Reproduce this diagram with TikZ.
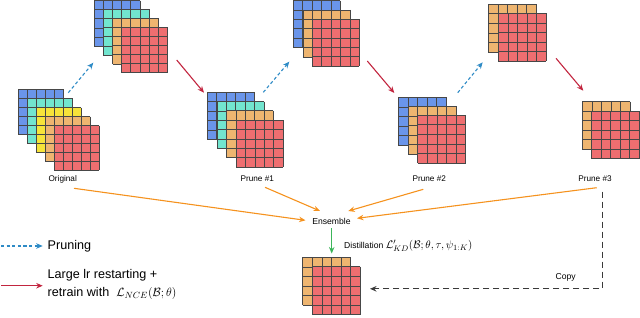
\documentclass[tikz,border=0pt]{standalone}
\usepackage{fontspec}
\setmainfont{Liberation Sans}
\usetikzlibrary{arrows.meta}
\definecolor{gblue}{HTML}{6A95EA}
\definecolor{gteal}{HTML}{72E5CF}
\definecolor{gyellow}{HTML}{F6E43A}
\definecolor{gorange}{HTML}{EEB570}
\definecolor{gred}{HTML}{EE6E70}
\definecolor{cprune}{HTML}{2E8BC6}
\definecolor{cretrain}{HTML}{C2253F}
\definecolor{cens}{HTML}{F5921E}
\definecolor{cdist}{HTML}{3CB55A}
\definecolor{ccopy}{HTML}{3A3A3A}
\newcommand\cellgrid[4]{%
  \fill[#4] (#1,#2) rectangle (#1+5*#3,#2+5*#3);
  \foreach \k in {0,...,5}{%
    \draw[gridline] (#1+\k*#3,#2) -- (#1+\k*#3,#2+5*#3);
    \draw[gridline] (#1,#2+\k*#3) -- (#1+5*#3,#2+\k*#3);
  }%
}
\tikzset{
  gridline/.style={draw=black!72,line width=0.6pt},
  lbl/.style={font=\fontsize{8.2}{9}\selectfont,inner sep=1pt},
  legend/.style={font=\fontsize{12.6}{17.6}\selectfont,inner sep=0pt,align=left,anchor=west},
  prunearrow/.style={cprune,line width=1.1pt,dash pattern=on 3.2pt off 2.4pt,-{Stealth[length=6.5pt,width=5.5pt]}},
  retrainarrow/.style={cretrain,line width=1.1pt,-{Stealth[length=6.5pt,width=5.5pt]}},
  ensarrow/.style={cens,line width=1.1pt,-{Stealth[length=6.5pt,width=5.5pt]}},
  distarrow/.style={cdist,line width=1.1pt,-{Stealth[length=6.5pt,width=5.5pt]}},
  copyarrow/.style={ccopy,line width=1.1pt,dash pattern=on 6pt off 4pt,-{Stealth[length=6.5pt,width=5.5pt]}},
}
\begin{document}
\begin{tikzpicture}[x=1pt,y=-1pt]
\useasboundingbox (0,0) rectangle (640,317);
% Original
\cellgrid{18.3}{89.3}{8.9}{gblue}
\cellgrid{27.3}{98.3}{8.9}{gteal}
\cellgrid{36.3}{107.5}{8.9}{gyellow}
\cellgrid{45.4}{116.6}{8.9}{gorange}
\cellgrid{54.4}{125.7}{8.9}{gred}
% Top 1
\cellgrid{94.3}{0.5}{9.1}{gblue}
\cellgrid{103.4}{9.4}{9.1}{gteal}
\cellgrid{112.5}{18.3}{9.1}{gorange}
\cellgrid{121.6}{27.2}{9.1}{gred}
% Prune 1
\cellgrid{207.3}{92.3}{9.4}{gblue}
\cellgrid{216.8}{101.5}{9.4}{gteal}
\cellgrid{226.4}{110.7}{9.4}{gorange}
\cellgrid{236}{120}{9.4}{gred}
% Top 2
\cellgrid{293.3}{0.5}{9.4}{gblue}
\cellgrid{302.8}{9.8}{9.4}{gorange}
\cellgrid{312.3}{19}{9.4}{gred}
% Prune 2
\cellgrid{398.3}{97.3}{9.6}{gblue}
\cellgrid{408}{106.2}{9.6}{gorange}
\cellgrid{417.7}{115}{9.6}{gred}
% Top 3
\cellgrid{488.3}{4}{9.6}{gorange}
\cellgrid{498.3}{13.3}{9.6}{gred}
% Prune 3
\cellgrid{582.3}{101.7}{9.5}{gorange}
\cellgrid{591.7}{111}{9.5}{gred}
% Final
\cellgrid{302.7}{257.3}{9.6}{gorange}
\cellgrid{312.3}{266.7}{9.6}{gred}

% labels
\node[lbl] (orig) at (62.7,179) {Original};
\node[lbl] (p1) at (257.3,179) {Prune \#1};
\node[lbl] (p2) at (429.3,179) {Prune \#2};
\node[lbl] (p3) at (595,179) {Prune \#3};
\node[lbl,font=\fontsize{8.6}{9}\selectfont] (ens) at (331.5,221) {Ensemble};
\node[lbl,anchor=west,font=\fontsize{8.6}{9}\selectfont] (dist) at (343,246) {Distillation {\fontsize{11}{12}\selectfont$\mathcal{L}'_{KD}(\mathcal{B};\theta,\tau,\psi_{1:K})$}};
\node[lbl,font=\fontsize{8.6}{9}\selectfont] (copy) at (565.7,277.3) {Copy};

% arrow end coordinates
\coordinate (o0) at (68.3,92.7);   \coordinate (t1a) at (93.3,62.7);
\coordinate (t1b) at (176.7,60);   \coordinate (p1a) at (204,92.7);
\coordinate (p1b) at (263.3,92.3); \coordinate (t2a) at (289.3,61.7);
\coordinate (t2b) at (367.3,61);   \coordinate (p2a) at (394.3,93);
\coordinate (p2b) at (457.7,92.7); \coordinate (t3a) at (482.7,62.3);
\coordinate (t3b) at (556,58.3);   \coordinate (p3a) at (583.3,90.7);

\draw[prunearrow] (o0) -- (t1a);
\draw[retrainarrow] (t1b) -- (p1a);
\draw[prunearrow] (p1b) -- (t2a);
\draw[retrainarrow] (t2b) -- (p2a);
\draw[prunearrow] (p2b) -- (t3a);
\draw[retrainarrow] (t3b) -- (p3a);

\coordinate (os) at (74,188.3);   \coordinate (e1) at (305.5,220.3);
\coordinate (p1s) at (265,187.3); \coordinate (e2) at (320,211);
\coordinate (p2s) at (423.3,189.3); \coordinate (e3) at (348.3,211);
\coordinate (p3s) at (596.7,187.7); \coordinate (e4) at (357,218.3);
\draw[ensarrow] (os) -- (e1);
\draw[ensarrow] (p1s) -- (e2);
\draw[ensarrow] (p2s) -- (e3);
\draw[ensarrow] (p3s) -- (e4);

\coordinate (es) at (331.7,228.3); \coordinate (fs) at (331.7,253.5);
\draw[distarrow] (es) -- (fs);

\coordinate (c0) at (602.3,191.7); \coordinate (c1) at (602.3,288.8); \coordinate (c2) at (370,288.8);
\draw[copyarrow] (c0) -- (c1) -- (c2);

% legend
\coordinate (l1a) at (1,246); \coordinate (l1b) at (42.7,246);
\coordinate (l2a) at (1,285.7); \coordinate (l2b) at (42.7,285.7);
\draw[prunearrow] (l1a) -- (l1b);
\draw[retrainarrow] (l2a) -- (l2b);
\node[legend] (lp) at (47.5,246) {Pruning};
\node[legend] (lr) at (47.5,284.5) {Large lr restarting +\\retrain with \ $\mathcal{L}_{NCE}(\mathcal{B};\theta)$};
\end{tikzpicture}
\end{document}
